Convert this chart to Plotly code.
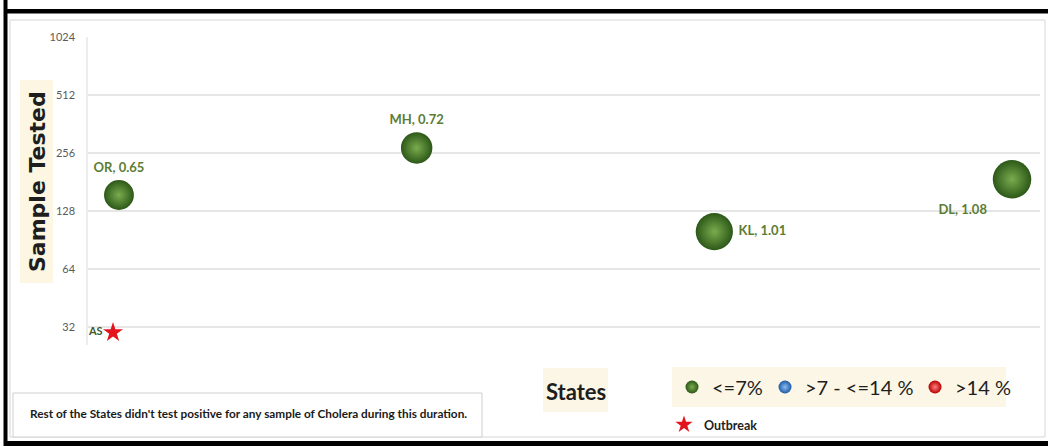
import math
import plotly.graph_objects as go

# ---------------- data ----------------
states = ["OR", "MH", "KL", "DL"]
state_index = [1, 2, 3, 4]
samples_tested = [155, 272, 100, 187]
positivity_pct = [0.65, 0.72, 1.01, 1.08]
label_positions = ["top center", "top center", "middle right", "bottom left"]

outbreak_states = ["AS"]
outbreak_index = [0.98]
outbreak_samples = [30]

y_tick_vals = [32, 64, 128, 256, 512, 1024]
y_tick_text = ["32", "64", "128", "256", "512", "1024"]

legend_names = ["<=7%", ">7 - <=14 %", ">14 %"]
legend_centers = ["#7aac4e", "#8cbcf0", "#ff8080"]
legend_edges = ["#2c5818", "#1d5aa6", "#b80000"]
thresholds = [7, 14]

NOTE = "Rest of the States didn't test positive for any sample of Cholera during this duration."

# ---------------- layout geometry ----------------
W, H = 1048, 446
L, R, T, B = 88, 1040, 37, 345
PW, PH = R - L, B - T
OCT = 58.0  # px per doubling

def px(x):
    return (x - L) / PW

def py(y):
    return (B - y) / PH

y_top = math.log10(1024)
y_bot = y_top - (PH / OCT) * math.log10(2)
x_lo, x_hi = 0.896, 4.094

FONT = "Lato, 'Open Sans', sans-serif"

def category(v):
    if v <= thresholds[0]:
        return 0
    if v <= thresholds[1]:
        return 1
    return 2

cats = [category(v) for v in positivity_pct]
labels = [f"{s}, {v:.2f}" for s, v in zip(states, positivity_pct)]

max_d = 38.5
sizeref = 2.0 * max(positivity_pct) / max_d ** 2

fig = go.Figure()

fig.add_trace(go.Scatter(
    x=state_index, y=samples_tested, mode="markers+text",
    text=labels, textposition=label_positions,
    textfont=dict(family=FONT, size=13, color="#5b7d35", weight="bold"),
    marker=dict(
        size=positivity_pct, sizemode="area", sizeref=sizeref, opacity=1,
        color=[legend_edges[c] for c in cats],
        gradient=dict(type="radial", color=[legend_centers[c] for c in cats]),
        line=dict(width=0),
    ),
    showlegend=False, hoverinfo="skip",
))

fig.add_trace(go.Scatter(
    x=outbreak_index, y=outbreak_samples, mode="markers+text",
    text=outbreak_states, textposition="middle left",
    textfont=dict(family=FONT, size=11, color="#3e5a2a", weight="bold"),
    marker=dict(symbol="star", size=15, color="#e3141c", line=dict(width=0), opacity=1),
    showlegend=False, hoverinfo="skip",
))

legend_ids = ["legend", "legend3", "legend4"]
for name, c0, c1, lid in zip(legend_names, legend_centers, legend_edges, legend_ids):
    fig.add_trace(go.Scatter(
        x=[None], y=[None], mode="markers", name=name,
        marker=dict(size=13, color=c1, gradient=dict(type="radial", color=c0),
                    line=dict(width=0), opacity=1),
        legend=lid,
    ))

fig.add_trace(go.Scatter(
    x=[None], y=[None], mode="markers", name="Outbreak",
    marker=dict(symbol="star", size=13, color="#e3141c", line=dict(width=0), opacity=1),
    legend="legend2",
))

shapes = []
def rect(x0, y0, x1, y1, fill=None, line=None, lw=0, layer="below"):
    shapes.append(dict(type="rect", xref="paper", yref="paper",
                       x0=px(x0), x1=px(x1), y0=py(y1), y1=py(y0),
                       fillcolor=fill or "rgba(0,0,0,0)",
                       line=dict(color=line or "rgba(0,0,0,0)", width=lw),
                       layer=layer))

# inner light frame
rect(10, 20, 1045, 437, line="#d6d6d6", lw=1)
# black outer frame pieces
rect(4, 9, 1048, 13.5, fill="black", layer="above")
rect(3.5, 0, 7.5, 446, fill="black", layer="above")
rect(4, 441, 1048, 446, fill="black", layer="above")
# y title box
rect(20, 80, 53, 283, fill="#fcf6e2")
# note box
rect(13, 393, 482, 437, fill="white", line="#cfcfcf", lw=1)
# States box
rect(543, 368, 608, 412, fill="#fbf6e6")
# legend box
rect(672, 367, 1006, 407, fill="#fbf6e6")

annotations = [
    dict(text="<b>Sample Tested</b>", x=px(37), y=py(182), xref="paper", yref="paper",
         textangle=-90, showarrow=False, xanchor="center", yanchor="middle",
         font=dict(family="DejaVu Sans", size=22, color="#1e1e1e")),
    dict(text=NOTE, x=px(248), y=py(413), xref="paper", yref="paper",
         showarrow=False, xanchor="center", yanchor="middle",
         font=dict(family=FONT, size=11.8, color="#1a1a1a", weight="bold")),
    dict(text="States", x=px(576), y=py(391), xref="paper", yref="paper",
         showarrow=False, xanchor="center", yanchor="middle",
         font=dict(family=FONT, size=22, color="#1e1e1e", weight="bold")),
]

def item_legend(bullet_x, center_y, size, weight="normal"):
    return dict(orientation="h", x=px(bullet_x - 18), y=py(center_y),
                xanchor="left", yanchor="middle", bgcolor="rgba(0,0,0,0)",
                font=dict(family=FONT, size=size, color="#1e1e1e", weight=weight),
                itemclick=False, itemdoubleclick=False)

fig.update_layout(
    width=W, height=H,
    margin=dict(l=L, r=W - R, t=T, b=H - B, autoexpand=False),
    paper_bgcolor="white", plot_bgcolor="white",
    shapes=shapes, annotations=annotations,
    showlegend=True,
    legend=item_legend(690, 387, 20),
    legend3=item_legend(783, 387, 20),
    legend4=item_legend(933, 387, 20),
    legend2=item_legend(682, 425, 12.5, "bold"),
    xaxis=dict(range=[x_lo, x_hi], showgrid=False, zeroline=False, showticklabels=False,
               showline=False, ticks=""),
    yaxis=dict(type="log", range=[y_bot, y_top], tickvals=y_tick_vals, ticktext=y_tick_text,
               showgrid=True, gridcolor="#e6e6e6", gridwidth=1.5, zeroline=False,
               showline=True, linecolor="#ededed", linewidth=1.5, ticks="",
               ticklabelstandoff=9,
               tickfont=dict(family=FONT, size=11, color="#5a5a5a")),
)

fig.write_html("out.html")
